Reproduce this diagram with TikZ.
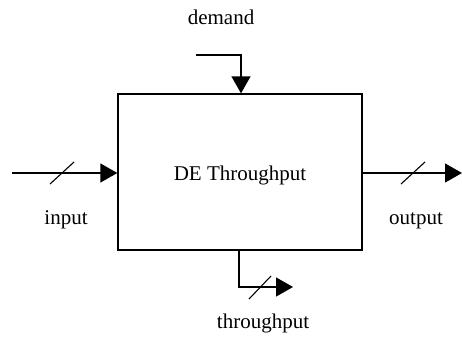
\documentclass[tikz,border=0pt]{standalone}
\usepackage{fontspec}
\setmainfont{Liberation Serif}
\usetikzlibrary{arrows.meta}
\begin{document}
\begin{tikzpicture}[x=1pt,y=-1pt,
  lbl/.style={font=\fontsize{21}{25}\selectfont, inner sep=0pt, anchor=base},
  flow/.style={line width=1.3pt, -{Triangle[length=17pt,width=19pt]}},
  tick/.style={line width=1.1pt}]
\useasboundingbox (0,0) rectangle (462,337);

% block
\node[draw, line width=1.3pt, minimum width=244pt, minimum height=156pt,
      inner sep=0pt] (blk) at (240,172) {};
\node[lbl] (title) at (240,180) {DE Throughput};

% free ends of the connectors
\coordinate (dsrc) at (196,55);
\coordinate (dcorner) at (241,55);
\coordinate (isrc) at (12,173);
\coordinate (otgt) at (462,173);
\coordinate (tcorner) at (239,287);
\coordinate (ttgt) at (293,287);

% demand
\draw[flow] (dsrc) -- (dcorner) -- (dcorner |- blk.north);
\node[lbl] (dlab) at (221,25) {demand};

% input
\draw[flow] (isrc) -- (isrc -| blk.west);
\draw[tick] (50,184) -- (74,162);
\node[lbl] (ilab) at (66,224) {input};

% output
\draw[flow] (blk.east |- otgt) -- (otgt);
\draw[tick] (401,184) -- (425,162);
\node[lbl] (olab) at (416,224) {output};

% throughput
\draw[flow] (tcorner |- blk.south) -- (tcorner) -- (ttgt);
\draw[tick] (249,299) -- (271,276);
\node[lbl] (tlab) at (263,328) {throughput};
\end{tikzpicture}
\end{document}
